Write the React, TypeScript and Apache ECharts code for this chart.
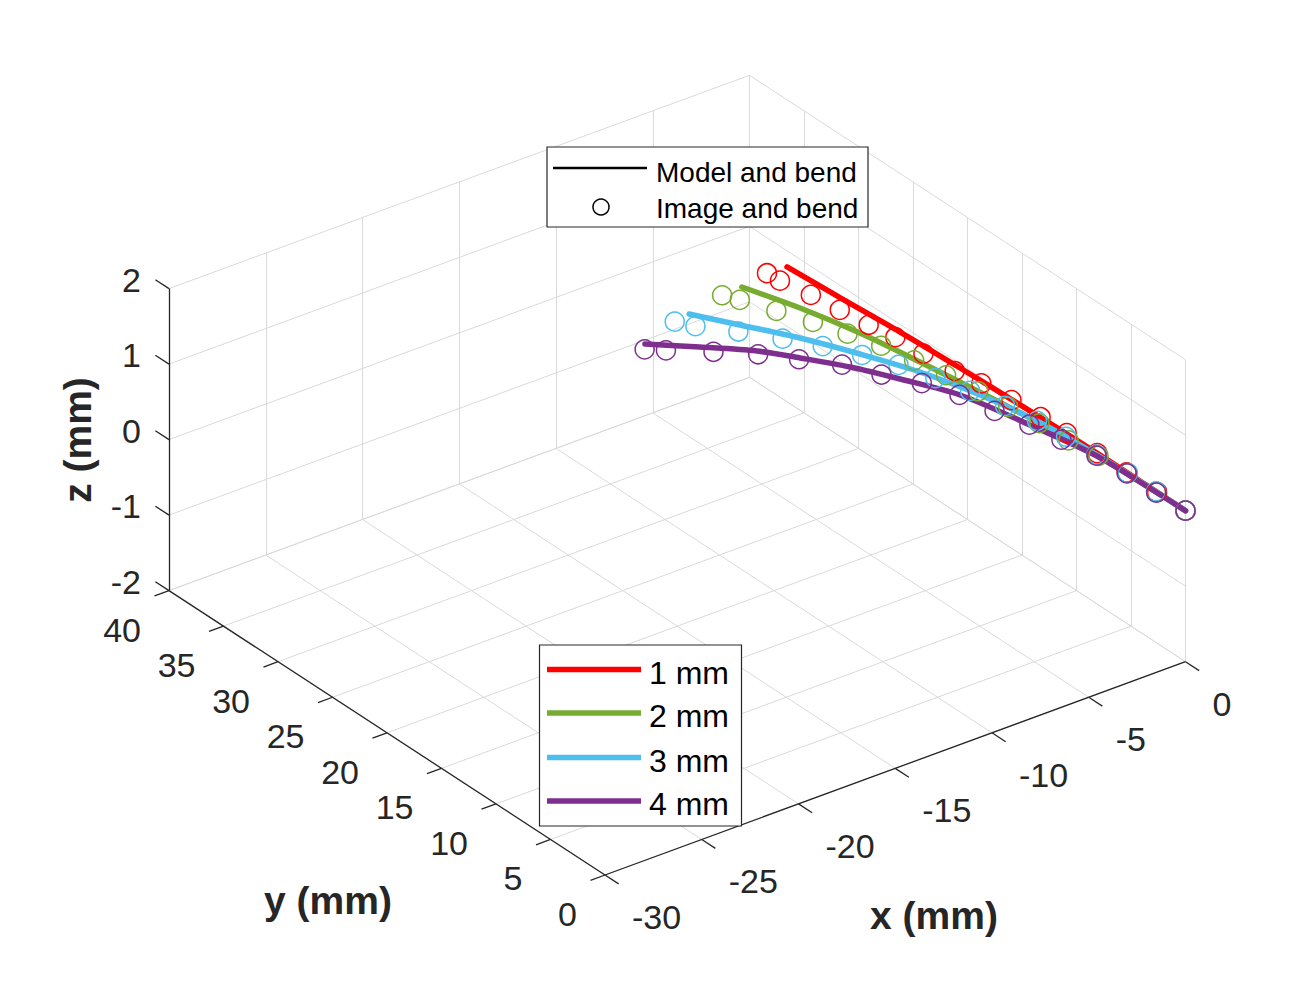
import React, { useEffect, useRef } from "react";
import * as echarts from "echarts";

// ---- axis limits and ticks ----
const X_MIN = -30, X_MAX = 0;
const Y_MIN = 0, Y_MAX = 40;
const Z_MIN = -2, Z_MAX = 2;
const xTicks = [-30, -25, -20, -15, -10, -5, 0];
const yTicks = [0, 5, 10, 15, 20, 25, 30, 35, 40];
const zTicks = [-2, -1, 0, 1, 2];
const xTickLabels = ["-30", "-25", "-20", "-15", "-10", "-5", "0"];
const yTickLabels = ["0", "5", "10", "15", "20", "25", "30", "35", "40"];
const zTickLabels = ["-2", "-1", "0", "1", "2"];

// all curves lie in the plane z = 0
const Z_PLANE = 0;

// ---- model curves (x, y in mm), from the tip base outwards ----
const redModelY = [0, 5.05, 9.67, 14.99, 20.29, 25.51, 30.56, 35.1];
const redModelX = [0, 0, -0.02, -0.1, -0.22, -0.38, -0.62, -0.82];
const greenModelY = [0, 7.5, 12.9, 17.38, 22.15, 26.75, 30.98, 34.79];
const greenModelX = [0, -0.1, -0.4, -0.78, -1.24, -1.76, -2.47, -3.33];
const blueModelY = [0, 7.8, 12.79, 17.2, 21.26, 24.86, 28.28, 31.44, 34.11];
const blueModelX = [0, -0.1, -0.35, -0.93, -1.75, -2.82, -3.99, -5.32, -6.44];
const purpleModelY = [0, 2.66, 7.85, 12.85, 17.86, 21.28, 24.02, 26.48, 28.53, 30.78, 32.87];
const purpleModelX = [0, -0.03, -0.16, -0.8, -1.59, -2.76, -3.81, -5.0, -6.07, -7.76, -9.42];

// ---- image points (x, y in mm) ----
const redImgY = [0, 2.6, 5.4, 8.1, 10.9, 13.2, 15.7, 18.2, 20.2, 22.8, 25.2, 27.2, 29.5, 31.8, 34.1, 35.2];
const redImgX = [0, 0, 0, 0, 0, -0.05, -0.15, -0.3, -0.55, -0.7, -0.8, -1.05, -1.25, -1.45, -1.75, -1.8];
const greenImgY = [0, 2.7, 5.3, 7.8, 10.2, 12.7, 15.2, 17.6, 20.1, 22.5, 24.9, 27.1, 29.3, 31.5, 33.7, 34.7];
const greenImgX = [0, 0, 0, -0.1, -0.3, -0.4, -0.6, -0.8, -1.05, -1.35, -1.7, -2.2, -2.75, -3.4, -4.05, -4.4];
const blueImgY = [0, 2.7, 5.3, 8.0, 10.6, 13.0, 15.4, 17.9, 20.2, 22.6, 24.7, 26.8, 28.8, 30.9, 32.8, 33.9];
const blueImgX = [0, 0, 0, -0.1, -0.2, -0.35, -0.65, -1.05, -1.55, -2.1, -2.8, -3.65, -4.6, -5.7, -6.85, -7.3];
const purpleImgY = [0, 2.6, 5.3, 7.9, 10.5, 12.9, 15.3, 17.9, 20.2, 22.3, 24.5, 26.4, 28.2, 29.9, 31.6, 32.4];
const purpleImgX = [0, -0.05, -0.05, -0.15, -0.5, -0.8, -1.25, -1.6, -2.25, -3.15, -3.95, -5.1, -6.2, -7.55, -9.05, -9.7];

const seriesNames = ["1 mm", "2 mm", "3 mm", "4 mm"];
const seriesColors = ["#FF0000", "#77AC30", "#4DBEEE", "#7E2F8E"];

// ---- projection of the 3-D box onto the page plane ----
const W = 1312, H = 985;
const ORIGIN = [605, 875]; // (X_MIN, Y_MIN, Z_MIN)
const UX = [19.35, -7.11];
const UY = [-10.9, -7.11];
const UZ = [0, -75.5];
function proj(x: number, y: number, z: number): number[] {
  const a = x - X_MIN, b = y - Y_MIN, c = z - Z_MIN;
  return [
    ORIGIN[0] + a * UX[0] + b * UY[0] + c * UZ[0],
    ORIGIN[1] + a * UX[1] + b * UY[1] + c * UZ[1],
  ];
}

const FONT = '"Liberation Sans", Arial, Helvetica, sans-serif';
const DARK = "#262626";
const GRID = "#dadada";

type Seg = [number[], number[]];

function gridSegs(): Seg[] {
  const s: Seg[] = [];
  for (const x of xTicks) {
    s.push([[x, Y_MIN, Z_MIN], [x, Y_MAX, Z_MIN]]);
    s.push([[x, Y_MAX, Z_MIN], [x, Y_MAX, Z_MAX]]);
  }
  for (const y of yTicks) {
    s.push([[X_MIN, y, Z_MIN], [X_MAX, y, Z_MIN]]);
    s.push([[X_MAX, y, Z_MIN], [X_MAX, y, Z_MAX]]);
  }
  for (const z of zTicks) {
    s.push([[X_MIN, Y_MAX, z], [X_MAX, Y_MAX, z]]);
    s.push([[X_MAX, Y_MIN, z], [X_MAX, Y_MAX, z]]);
  }
  return s;
}

function axisSegs(): Seg[] {
  const s: Seg[] = [
    [[X_MIN, Y_MAX, Z_MIN], [X_MIN, Y_MAX, Z_MAX]],
    [[X_MIN, Y_MIN, Z_MIN], [X_MIN, Y_MAX, Z_MIN]],
    [[X_MIN, Y_MIN, Z_MIN], [X_MAX, Y_MIN, Z_MIN]],
  ];
  for (const z of zTicks) s.push([[X_MIN, Y_MAX, z], [X_MIN, Y_MAX + 1.25, z]]);
  for (const y of yTicks) s.push([[X_MIN, y, Z_MIN], [X_MIN - 0.75, y, Z_MIN]]);
  for (const x of xTicks) s.push([[x, Y_MIN, Z_MIN], [x, Y_MIN - 1.25, Z_MIN]]);
  return s;
}

function segData(segs: Seg[]) {
  return segs.map(([a, b]) => ({
    coords: [proj(a[0], a[1], a[2]), proj(b[0], b[1], b[2])],
  }));
}

function curvePts(xs: number[], ys: number[]) {
  return xs.map((x, i) => proj(x, ys[i], Z_PLANE));
}

function tickLabelSeries(
  pts: number[][],
  labels: string[],
  dx: number,
  dy: number,
  align: string
) {
  return {
    type: "custom",
    coordinateSystem: "cartesian2d",
    silent: true,
    z: 5,
    data: pts,
    renderItem: (params: any, api: any) => {
      const p = api.coord([api.value(0), api.value(1)]);
      return {
        type: "text",
        x: p[0] + dx,
        y: p[1] + dy,
        style: {
          text: labels[params.dataIndex],
          fill: DARK,
          font: `34px ${FONT}`,
          align,
          verticalAlign: "middle",
        },
      };
    },
  };
}

export default function App() {
  const ref = useRef<HTMLDivElement>(null);

  useEffect(() => {
    if (!ref.current) return;
    const chart = echarts.init(ref.current, undefined, { renderer: "svg" });

    const modelSets = [
      [redModelX, redModelY],
      [greenModelX, greenModelY],
      [blueModelX, blueModelY],
      [purpleModelX, purpleModelY],
    ];
    const imgSets = [
      [redImgX, redImgY],
      [greenImgX, greenImgY],
      [blueImgX, blueImgY],
      [purpleImgX, purpleImgY],
    ];

    const curveSeries: any[] = [];
    for (let i = 0; i < 4; i++) {
      curveSeries.push({
        type: "scatter",
        name: seriesNames[i] + " image",
        data: curvePts(imgSets[i][0], imgSets[i][1]),
        symbol: "circle",
        symbolSize: 19,
        silent: true,
        z: 3,
        itemStyle: {
          color: "rgba(0,0,0,0)",
          borderColor: seriesColors[i],
          borderWidth: 1.5,
          opacity: 1,
        },
      });
      curveSeries.push({
        type: "line",
        name: seriesNames[i],
        data: curvePts(modelSets[i][0], modelSets[i][1]),
        showSymbol: false,
        smooth: 0.3,
        silent: true,
        z: 3,
        lineStyle: { color: seriesColors[i], width: 5.5, cap: "round" },
      });
    }

    const zBase = zTicks.map((z) => proj(X_MIN, Y_MAX, z));
    const yBase = yTicks.map((y) => proj(X_MIN, y, Z_MIN));
    const xBase = xTicks.map((x) => proj(x, Y_MIN, Z_MIN));

    const legendTop: any[] = [
      {
        type: "rect",
        z: 100,
        shape: { x: 547, y: 147, width: 321, height: 80 },
        style: { fill: "#ffffff", stroke: DARK, lineWidth: 1.2 },
      },
      {
        type: "line",
        z: 101,
        shape: { x1: 553, y1: 168, x2: 647, y2: 168 },
        style: { stroke: "#000000", lineWidth: 2.5 },
      },
      {
        type: "circle",
        z: 101,
        shape: { cx: 601, cy: 207, r: 8 },
        style: { fill: "rgba(0,0,0,0)", stroke: "#000000", lineWidth: 1.5 },
      },
      {
        type: "text",
        z: 101,
        x: 656,
        y: 172,
        style: { text: "Model and bend", fill: "#000", font: `28px ${FONT}`, verticalAlign: "middle" },
      },
      {
        type: "text",
        z: 101,
        x: 656,
        y: 208,
        style: { text: "Image and bend", fill: "#000", font: `28px ${FONT}`, verticalAlign: "middle" },
      },
    ];

    const legRowY = [669.5, 713, 757.5, 801];
    const legendBottom: any[] = [
      {
        type: "rect",
        z: 100,
        shape: { x: 539.5, y: 645, width: 202, height: 181 },
        style: { fill: "#ffffff", stroke: DARK, lineWidth: 1.2 },
      },
    ];
    for (let i = 0; i < 4; i++) {
      legendBottom.push({
        type: "line",
        z: 101,
        shape: { x1: 547, y1: legRowY[i], x2: 641, y2: legRowY[i] },
        style: { stroke: seriesColors[i], lineWidth: 5.5 },
      });
      legendBottom.push({
        type: "text",
        z: 101,
        x: 649,
        y: legRowY[i] + 3,
        style: { text: seriesNames[i], fill: "#000", font: `32px ${FONT}`, verticalAlign: "middle" },
      });
    }

    const axisTitles: any[] = [
      {
        type: "text",
        z: 50,
        x: 934,
        y: 915,
        style: { text: "x (mm)", fill: DARK, font: `bold 39px ${FONT}`, align: "center", verticalAlign: "middle" },
      },
      {
        type: "text",
        z: 50,
        x: 328,
        y: 900,
        style: { text: "y (mm)", fill: DARK, font: `bold 39px ${FONT}`, align: "center", verticalAlign: "middle" },
      },
      {
        type: "text",
        z: 50,
        x: 77,
        y: 440,
        rotation: Math.PI / 2,
        style: { text: "z (mm)", fill: DARK, font: `bold 39px ${FONT}`, align: "center", verticalAlign: "middle" },
      },
    ];

    chart.setOption({
      animation: false,
      backgroundColor: "#ffffff",
      grid: { left: 0, right: 0, top: 0, bottom: 0 },
      xAxis: { type: "value", min: 0, max: W, show: false },
      yAxis: { type: "value", min: 0, max: H, inverse: true, show: false },
      series: [
        {
          type: "lines",
          coordinateSystem: "cartesian2d",
          silent: true,
          z: 1,
          data: segData(gridSegs()),
          lineStyle: { color: GRID, width: 1, opacity: 1 },
        },
        {
          type: "lines",
          coordinateSystem: "cartesian2d",
          silent: true,
          z: 2,
          data: segData(axisSegs()),
          lineStyle: { color: DARK, width: 1.3, opacity: 1 },
        },
        ...curveSeries,
        tickLabelSeries(zBase, zTickLabels, -28, -9, "right"),
        tickLabelSeries(yBase, yTickLabels, -28, 39, "right"),
        tickLabelSeries(xBase, xTickLabels, 27, 42, "left"),
      ],
      graphic: [...axisTitles, ...legendTop, ...legendBottom],
    });

    return () => chart.dispose();
  }, []);

  return (
    <div
      ref={ref}
      style={{ position: "fixed", left: 0, top: 0, width: W, height: H, background: "#fff" }}
    />
  );
}
